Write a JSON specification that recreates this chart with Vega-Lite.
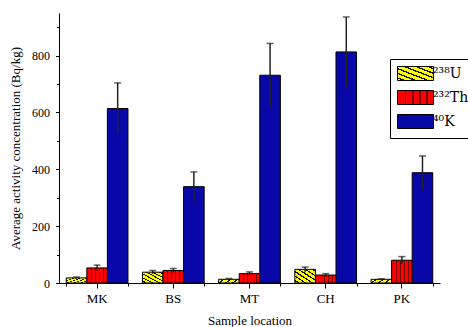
{
  "$schema": "https://vega.github.io/schema/vega-lite/v6.json",
  "width": 381,
  "height": 270,
  "autosize": "none",
  "padding": {"left": 59, "top": 13, "right": 28, "bottom": 44},
  "background": "white",
  "config": {
    "font": "Liberation Serif",
    "view": {"stroke": null},
    "axis": {"grid": false, "domainColor": "black", "tickColor": "black", "labelColor": "black", "titleColor": "black", "titleFontWeight": "normal", "labelFont": "Liberation Serif", "titleFont": "Liberation Serif"}
  },
  "data": {
    "values": [
      {"loc": "MK", "elem": "238U", "value": 18, "lo": 15, "hi": 21},
      {"loc": "MK", "elem": "232Th", "value": 53, "lo": 43, "hi": 63},
      {"loc": "MK", "elem": "40K", "value": 614, "lo": 524, "hi": 704},
      {"loc": "BS", "elem": "238U", "value": 38, "lo": 32, "hi": 44},
      {"loc": "BS", "elem": "232Th", "value": 44, "lo": 37, "hi": 51},
      {"loc": "BS", "elem": "40K", "value": 339, "lo": 287, "hi": 391},
      {"loc": "MT", "elem": "238U", "value": 13, "lo": 10, "hi": 16},
      {"loc": "MT", "elem": "232Th", "value": 33, "lo": 27, "hi": 39},
      {"loc": "MT", "elem": "40K", "value": 731, "lo": 619, "hi": 843},
      {"loc": "CH", "elem": "238U", "value": 48, "lo": 40, "hi": 56},
      {"loc": "CH", "elem": "232Th", "value": 28, "lo": 23, "hi": 33},
      {"loc": "CH", "elem": "40K", "value": 813, "lo": 690, "hi": 936},
      {"loc": "PK", "elem": "238U", "value": 13, "lo": 11, "hi": 15},
      {"loc": "PK", "elem": "232Th", "value": 80, "lo": 67, "hi": 93},
      {"loc": "PK", "elem": "40K", "value": 388, "lo": 329, "hi": 447}
    ]
  },
  "resolve": {"axis": {"x": "independent", "y": "independent"}},
  "layer": [
    {
      "mark": {"type": "bar", "stroke": "black", "strokeWidth": 1},
      "encoding": {
        "x": {"field": "loc", "type": "nominal", "sort": ["MK", "BS", "MT", "CH", "PK"],
          "scale": {"paddingInner": 0.19, "paddingOuter": 0.095},
          "axis": {"title": "Sample location", "labelAngle": 0, "labelFontSize": 13, "titleFontSize": 13, "tickSize": 5, "labelPadding": 4, "titlePadding": 9, "domainWidth": 1}},
        "xOffset": {"field": "elem", "type": "nominal", "sort": ["238U", "232Th", "40K"], "scale": {"domain": ["238U", "232Th", "40K"]}},
        "y": {"field": "value", "type": "quantitative",
          "scale": {"domain": [0, 950], "nice": false, "zero": true},
          "axis": {"title": "Average activity concentration (Bq/kg)", "values": [0, 200, 400, 600, 800], "labelFontSize": 12, "titleFontSize": 13, "tickSize": 3.5, "labelPadding": 6, "titlePadding": 9}},
        "color": {"field": "elem", "type": "nominal",
          "scale": {"domain": ["238U", "232Th", "40K"], "range": [
            {"expr": "{gradient:'linear',x1:0,y1:1,x2:1,y2:0,stops:[{offset:0,color:'#ffff00'},{offset:0.07,color:'#ffff00'},{offset:0.07,color:'#111111'},{offset:0.12,color:'#111111'},{offset:0.12,color:'#ffff00'},{offset:0.23,color:'#ffff00'},{offset:0.23,color:'#111111'},{offset:0.28,color:'#111111'},{offset:0.28,color:'#ffff00'},{offset:0.4,color:'#ffff00'},{offset:0.4,color:'#111111'},{offset:0.45,color:'#111111'},{offset:0.45,color:'#ffff00'},{offset:0.57,color:'#ffff00'},{offset:0.57,color:'#111111'},{offset:0.62,color:'#111111'},{offset:0.62,color:'#ffff00'},{offset:0.73,color:'#ffff00'},{offset:0.73,color:'#111111'},{offset:0.78,color:'#111111'},{offset:0.78,color:'#ffff00'},{offset:0.9,color:'#ffff00'},{offset:0.9,color:'#111111'},{offset:0.95,color:'#111111'},{offset:0.95,color:'#ffff00'},{offset:1,color:'#ffff00'}]}"},
            {"expr": "{gradient:'linear',x1:0,y1:0,x2:1,y2:0,stops:[{offset:0,color:'#ff0000'},{offset:0.2,color:'#ff0000'},{offset:0.2,color:'#7a0000'},{offset:0.245,color:'#7a0000'},{offset:0.245,color:'#ff0000'},{offset:0.4,color:'#ff0000'},{offset:0.4,color:'#7a0000'},{offset:0.445,color:'#7a0000'},{offset:0.445,color:'#ff0000'},{offset:0.6,color:'#ff0000'},{offset:0.6,color:'#7a0000'},{offset:0.645,color:'#7a0000'},{offset:0.645,color:'#ff0000'},{offset:0.8,color:'#ff0000'},{offset:0.8,color:'#7a0000'},{offset:0.845,color:'#7a0000'},{offset:0.845,color:'#ff0000'},{offset:1,color:'#ff0000'}]}"},
            "#0808a8"
          ]},
          "legend": {"title": null, "orient": "none", "legendX": 331, "legendY": 46, "direction": "vertical",
            "labelExpr": "datum.value == '238U' ? '²³⁸U' : datum.value == '232Th' ? '²³²Th' : '⁴⁰K'",
            "strokeColor": "black", "fillColor": "white", "padding": 7,
            "symbolType": "M-2.57,-1H2.57V1H-2.57Z", "symbolSize": 196, "symbolStrokeColor": "black", "symbolStrokeWidth": 1,
            "symbolOffset": 11, "labelOffset": 10, "labelFontSize": 14, "labelFont": "DejaVu Serif", "labelColor": "black", "rowPadding": 5}}
      }
    },
    {
      "mark": {"type": "rule", "color": "#222", "strokeWidth": 1.5},
      "encoding": {
        "x": {"field": "loc", "type": "nominal", "sort": ["MK", "BS", "MT", "CH", "PK"], "axis": null},
        "xOffset": {"field": "elem", "type": "nominal", "sort": ["238U", "232Th", "40K"]},
        "y": {"field": "lo", "type": "quantitative", "axis": null},
        "y2": {"field": "hi"}
      }
    },
    {
      "mark": {"type": "tick", "orient": "horizontal", "size": 7, "thickness": 1.5, "color": "#222"},
      "encoding": {
        "x": {"field": "loc", "type": "nominal", "sort": ["MK", "BS", "MT", "CH", "PK"],
          "axis": {"title": null, "labels": false, "domain": false, "tickBand": "extent", "tickSize": 3, "orient": "bottom"}},
        "xOffset": {"field": "elem", "type": "nominal", "sort": ["238U", "232Th", "40K"]},
        "y": {"field": "hi", "type": "quantitative",
          "axis": {"title": null, "labels": false, "domain": false, "values": [100, 300, 500, 700, 900], "tickSize": 2.5, "orient": "left"}}
      }
    }
  ]
}
